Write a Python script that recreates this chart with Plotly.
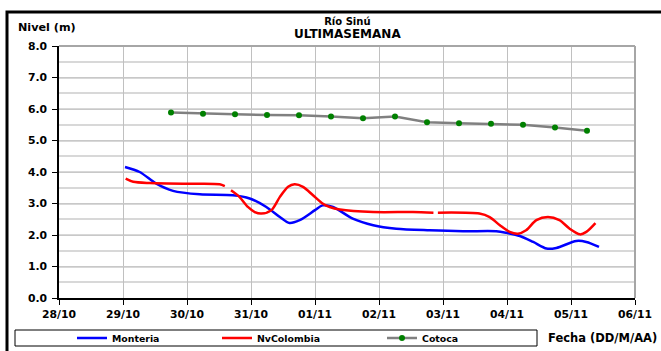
import plotly.graph_objects as go

# --- Series data (timestamps and water level in metres) ---
monteria_t = [
    "2010-10-29 00:45", "2010-10-29 06:15", "2010-10-29 12:30", "2010-10-29 18:45",
    "2010-10-30 04:50", "2010-10-30 17:15", "2010-10-30 23:30", "2010-10-31 05:45",
    "2010-10-31 10:50", "2010-10-31 14:25", "2010-10-31 18:15", "2010-11-01 00:00",
    "2010-11-01 02:50", "2010-11-01 06:45", "2010-11-01 14:10", "2010-11-01 21:50",
    "2010-11-02 06:30", "2010-11-02 19:00", "2010-11-03 07:30", "2010-11-03 20:00",
    "2010-11-03 23:45", "2010-11-04 04:50", "2010-11-04 09:50", "2010-11-04 14:50",
    "2010-11-04 18:30", "2010-11-05 02:00", "2010-11-05 05:45", "2010-11-05 10:30",
]
monteria_v = [
    4.16, 4.00, 3.63, 3.40,
    3.29, 3.26, 3.16, 2.89,
    2.57, 2.38, 2.47, 2.79,
    2.94, 2.89, 2.52, 2.31,
    2.20, 2.15, 2.12, 2.12,
    2.07, 1.97, 1.78, 1.57,
    1.59, 1.81, 1.78, 1.62,
]

nvcolombia_t = [
    "2010-10-29 01:00", "2010-10-29 03:50", "2010-10-29 10:05", "2010-10-29 22:35",
    "2010-10-30 04:50", "2010-10-30 12:15", "2010-10-30 14:10", "2010-10-30 15:00",
    "2010-10-30 16:30", "2010-10-30 19:40", "2010-10-30 22:50", "2010-10-31 01:25",
    "2010-10-31 03:50", "2010-10-31 07:40", "2010-10-31 10:50", "2010-10-31 13:55",
    "2010-10-31 16:20", "2010-10-31 19:30", "2010-10-31 23:15", "2010-11-01 02:50",
    "2010-11-01 05:30", "2010-11-01 09:20", "2010-11-01 21:50", "2010-11-02 12:45",
    "2010-11-02 20:25", "2010-11-02 21:30", "2010-11-02 22:05", "2010-11-03 13:40",
    "2010-11-03 17:30", "2010-11-03 21:20", "2010-11-04 01:00", "2010-11-04 04:05",
    "2010-11-04 07:10", "2010-11-04 11:00", "2010-11-04 15:20", "2010-11-04 19:40",
    "2010-11-04 23:30", "2010-11-05 03:20", "2010-11-05 05:45", "2010-11-05 09:10",
]
nvcolombia_v = [
    3.79, 3.69, 3.65, 3.63,
    3.63, 3.61, 3.55, None,
    3.42, 3.21, 2.89, 2.73,
    2.68, 2.79, 3.21, 3.53,
    3.61, 3.53, 3.26, 3.00,
    2.89, 2.81, 2.73, 2.73,
    2.71, None, 2.71, 2.68,
    2.57, 2.31, 2.10, 2.04,
    2.15, 2.47, 2.57, 2.47,
    2.20, 2.02, 2.10, 2.38,
]

cotoca_t = [
    "2010-10-29 18:00", "2010-10-30 06:00", "2010-10-30 18:00", "2010-10-31 06:00",
    "2010-10-31 18:00", "2010-11-01 06:00", "2010-11-01 18:00", "2010-11-02 06:00",
    "2010-11-02 18:00", "2010-11-03 06:00", "2010-11-03 18:00", "2010-11-04 06:00",
    "2010-11-04 18:00", "2010-11-05 06:00",
]
cotoca_v = [
    5.89, 5.85, 5.83, 5.81,
    5.80, 5.76, 5.71, 5.76,
    5.58, 5.55, 5.53, 5.50,
    5.41, 5.31,
]

x_tick_vals = [
    "2010-10-28", "2010-10-29", "2010-10-30", "2010-10-31", "2010-11-01",
    "2010-11-02", "2010-11-03", "2010-11-04", "2010-11-05", "2010-11-06",
]
x_tick_text = ["28/10", "29/10", "30/10", "31/10", "01/11",
               "02/11", "03/11", "04/11", "05/11", "06/11"]
y_tick_vals = [0, 1, 2, 3, 4, 5, 6, 7, 8]
y_tick_text = ["0.0", "1.0", "2.0", "3.0", "4.0", "5.0", "6.0", "7.0", "8.0"]

FONT = "DejaVu Sans"

fig = go.Figure()
fig.add_trace(go.Scatter(
    x=monteria_t, y=monteria_v, name="Monteria", mode="lines",
    line=dict(color="#0000ff", width=2.5, shape="spline", smoothing=0.8),
    legend="legend",
))
fig.add_trace(go.Scatter(
    x=nvcolombia_t, y=nvcolombia_v, name="NvColombia", mode="lines",
    line=dict(color="#ff0000", width=2.5, shape="spline", smoothing=0.8),
    connectgaps=False, legend="legend2",
))
fig.add_trace(go.Scatter(
    x=cotoca_t, y=cotoca_v, name="Cotoca", mode="lines+markers",
    line=dict(color="#808080", width=2.5),
    marker=dict(color="#008000", size=6),
    legend="legend3",
))

# pixel -> paper helpers for the 59..635 x 46..298 plot box
L, R, T, B = 59, 635, 46, 298
def px(x):
    return (x - L) / (R - L)
def py(y):
    return (B - y) / (B - T)

leg_common = dict(
    orientation="h", yanchor="middle", y=py(338), xanchor="left",
    bgcolor="rgba(0,0,0,0)", borderwidth=0,
    font=dict(family=FONT, size=9.4, color="black", weight="bold"),
)

fig.update_layout(
    width=661, height=351,
    margin=dict(l=L, r=661 - R, t=T, b=351 - B, pad=0, autoexpand=False),
    paper_bgcolor="white", plot_bgcolor="white",
    showlegend=True,
    legend=dict(leg_common, x=px(113 - 41)),
    legend2=dict(leg_common, x=px(258 - 41)),
    legend3=dict(leg_common, x=px(423 - 41)),
    xaxis=dict(
        type="date",
        range=["2010-10-28", "2010-11-06"],
        tickvals=x_tick_vals, ticktext=x_tick_text,
        showgrid=True, gridcolor="#c0c0c0", gridwidth=1,
        showline=True, linecolor="black", linewidth=1.5,
        ticks="outside", ticklen=5, tickcolor="black",
        tickfont=dict(family=FONT, size=10.8, color="black", weight="bold"),
        zeroline=False,
    ),
    yaxis=dict(
        range=[0, 8],
        tickvals=y_tick_vals, ticktext=y_tick_text,
        showgrid=True, gridcolor="#c8c8c8", gridwidth=1,
        minor=dict(dtick=0.5, showgrid=True, gridcolor="#d8d8d8", gridwidth=2),
        showline=True, linecolor="black", linewidth=1.5,
        ticks="outside", ticklen=5, tickcolor="black",
        ticklabelstandoff=3,
        tickfont=dict(family=FONT, size=10.8, color="black", weight="bold"),
        zeroline=False,
    ),
    shapes=[
        # plot area top and right edges
        dict(type="line", xref="paper", yref="paper", x0=0, x1=1, y0=1, y1=1,
             line=dict(color="#a6a6a6", width=2)),
        dict(type="line", xref="paper", yref="paper", x0=1, x1=1, y0=0, y1=1,
             line=dict(color="#a6a6a6", width=2)),
        # outer chart frame
        dict(type="path", xref="paper", yref="paper",
             path=f"M {px(7)},{py(400)} L {px(7)},{py(12)} L {px(700)},{py(12)}",
             line=dict(color="black", width=3)),
        # legend box
        dict(type="rect", xref="paper", yref="paper",
             x0=px(15), x1=px(537), y0=py(346), y1=py(330),
             line=dict(color="black", width=1)),
    ],
    annotations=[
        dict(text="Río Sinú<br><span style='font-size:12px'>ULTIMASEMANA</span>",
             xref="paper", yref="paper",
             x=px(347), y=py(28), xanchor="center", yanchor="middle",
             showarrow=False, align="center",
             font=dict(family=FONT, size=10, color="black", weight="bold")),
        dict(text="Nivel (m)", xref="paper", yref="paper",
             x=px(16), y=py(27), xanchor="left", yanchor="middle",
             showarrow=False,
             font=dict(family=FONT, size=11.2, color="black", weight="bold")),
        dict(text="Fecha (DD/M/AA)", xref="paper", yref="paper",
             x=px(546), y=py(338), xanchor="left", yanchor="middle",
             showarrow=False,
             font=dict(family=FONT, size=11.5, color="black", weight="bold")),
    ],
)

fig.write_html("out.html")
